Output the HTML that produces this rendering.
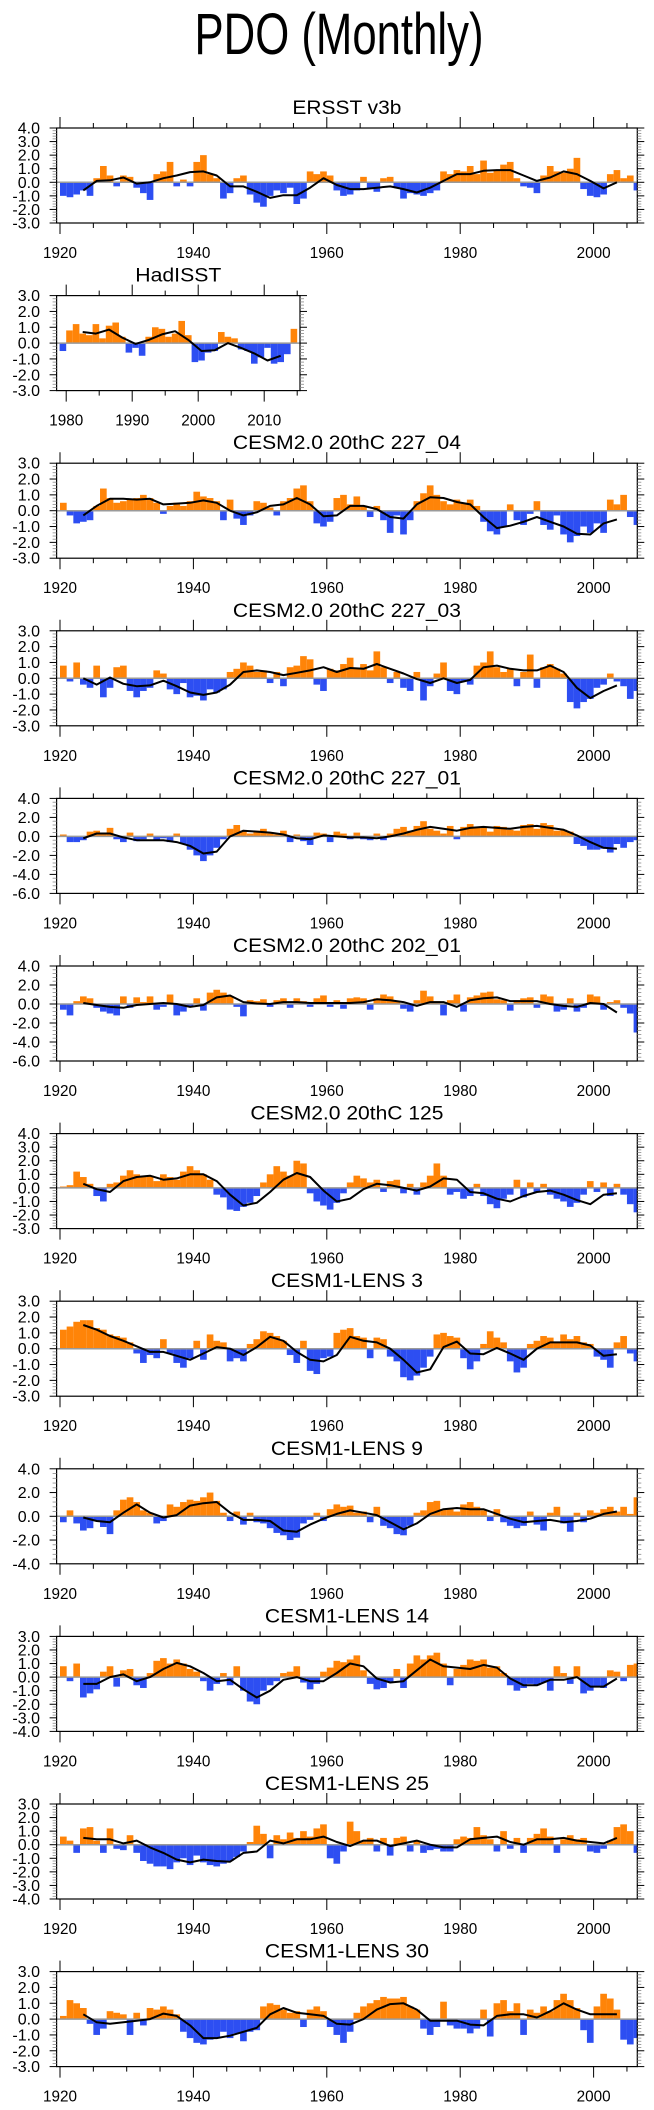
<!DOCTYPE html>
<html><head><meta charset="utf-8">
<style>
html,body{margin:0;padding:0;background:#fff;}
svg{display:block;font-family:"Liberation Sans",Arial,sans-serif;}
</style></head>
<body>
<svg id="fig" width="654" height="2110" viewBox="0 0 654 2110" xmlns="http://www.w3.org/2000/svg">
<text x="339" y="54" font-size="58" text-anchor="middle" textLength="289" lengthAdjust="spacingAndGlyphs">PDO (Monthly)</text>
</svg>
<script>
// ---------- DATA (yearly approximations of monthly bars; smooth every 2 years) ----------
const years = [];
for (let y = 1920; y <= 2006; y++) years.push(y);
const hadYears = [];
for (let y = 1979; y <= 2015; y++) hadYears.push(y);
const xTickLabelsMain = ["1920","1940","1960","1980","2000"];
const xTickLabelsHad = ["1980","1990","2000","2010"];

const ersstBars = [-1.0,-1.1,-0.9,-0.6,-1.0,0.3,1.2,0.5,-0.3,0.5, 0.4,-0.4,-0.8,-1.3,0.6,0.8,1.5,-0.3,0.2,-0.3, 1.5,2.0,0.6,0.3,-1.2,-0.8,0.3,0.5,-0.9,-1.5, -1.8,-1.0,-0.6,-0.8,-0.4,-1.6,-1.2,0.8,0.6,0.8, 0.5,-0.6,-1.0,-0.9,-0.6,0.4,-0.5,-0.7,0.3,0.4, -0.4,-1.2,-0.8,-0.9,-1.0,-0.8,-0.6,0.8,0.6,0.9, 0.8,1.2,0.6,1.6,0.7,0.9,1.3,1.5,0.3,-0.3, -0.4,-0.8,0.5,1.2,0.8,0.7,1.0,1.8,-0.5,-1.0, -1.1,-0.9,0.6,0.9,0.3,0.5,-0.6];
const ersstSmooth = [-0.6,0.1,0.15,0.35,-0.1,0.0,0.3,0.5,0.75,0.8,0.5,-0.3,-0.3,-0.7,-1.15,-0.95,-0.95,-0.4,0.3,-0.2,-0.5,-0.5,-0.4,-0.3,-0.5,-0.75,-0.4,0.1,0.6,0.6,0.85,0.9,0.9,0.5,0.1,0.35,0.8,0.6,0.1,-0.45,0.0];

const hadBars = [-0.5,0.8,1.2,0.6,0.5,1.2,0.3,1.1,1.3,0.4, -0.6,-0.3,-0.8,0.4,1.0,0.9,0.4,0.6,1.4,0.5, -1.2,-1.1,-0.6,-0.5,0.7,0.4,0.3,-0.4,-0.5,-1.3, -0.9,-0.3,-1.3,-1.2,-0.7,0.9,0.0];
const hadSmooth = [0.7,0.6,0.85,0.35,-0.05,0.2,0.55,0.75,0.2,-0.5,-0.45,0.0,-0.3,-0.65,-1.1,-0.8];

const c227_04Bars = [0.5,-0.3,-0.8,-0.7,-0.6,0.3,1.4,0.8,0.5,0.6, 0.7,0.8,1.0,0.8,0.5,-0.2,0.3,0.5,0.3,0.6, 1.2,0.9,0.8,0.6,-0.6,0.7,-0.5,-0.9,-0.3,0.6, 0.5,0.2,-0.3,0.6,0.8,1.4,1.6,0.6,-0.8,-1.0, -0.7,0.8,1.0,0.4,0.9,0.3,-0.4,0.3,-0.6,-1.4, -0.3,-1.5,-0.6,0.6,1.1,1.6,1.0,0.6,0.4,0.7, 0.5,0.7,0.3,-0.7,-1.3,-1.5,-1.0,0.4,-0.6,-0.9, -0.2,0.6,-0.9,-1.2,-0.3,-1.5,-2.0,-1.6,-1.0,-1.4, -0.8,-1.4,0.7,0.4,1.0,-0.4,-0.9];
const c227_04Smooth = [-0.3,0.3,0.75,0.75,0.7,0.75,0.4,0.45,0.5,0.65,0.5,0.0,-0.3,-0.1,0.3,0.4,0.8,0.4,-0.35,-0.3,0.3,0.3,0.1,-0.4,-0.5,0.4,0.85,0.8,0.55,0.4,-0.4,-1.1,-0.95,-0.7,-0.4,-0.7,-1.0,-1.45,-1.5,-0.8,-0.55];

const c227_03Bars = [0.8,-0.2,1.0,-0.4,-0.6,0.8,-1.2,-0.6,0.7,0.8, -0.8,-1.2,-0.8,-0.6,0.5,0.3,-0.7,-1.0,-0.3,-1.2, -1.1,-1.4,-0.7,-0.9,-0.7,0.4,0.6,1.0,0.8,0.4, 0.5,-0.3,0.4,-0.5,0.7,0.8,1.4,1.2,-0.4,-0.8, 0.6,0.5,0.9,1.3,0.6,0.9,0.5,1.7,0.7,-0.3, 0.4,-0.6,-0.8,0.4,-1.4,-0.5,0.3,1.0,-0.8,-1.0, -0.2,-0.4,0.8,1.0,1.7,0.7,0.4,0.6,-0.5,0.4, 1.5,-0.6,0.7,0.9,0.6,0.3,-1.5,-1.9,-1.5,-1.3, -0.6,-0.4,0.3,-0.2,-0.5,-1.3,-0.8];
const c227_03Smooth = [0.0,-0.4,0.05,-0.35,-0.5,-0.45,-0.15,-0.5,-0.9,-1.05,-0.9,-0.4,0.4,0.5,0.4,0.2,0.35,0.5,0.7,0.4,0.65,0.6,0.9,0.6,0.3,-0.05,-0.3,0.0,-0.3,-0.1,0.7,0.8,0.6,0.5,0.5,0.8,0.4,-0.6,-1.25,-0.8,-0.45];

const c227_01Bars = [0.2,-0.6,-0.6,-0.4,0.5,0.6,0.2,0.9,-0.3,-0.6, 0.4,-0.5,-0.3,0.3,-0.4,-0.2,-0.6,0.3,-0.8,-1.4, -2.0,-2.6,-2.0,-1.2,-0.3,0.8,1.2,0.6,0.3,0.6, 0.8,0.3,0.2,0.6,-0.6,0.2,-0.5,-0.9,0.4,0.3, -0.6,0.5,0.3,-0.3,0.4,-0.3,-0.4,0.3,-0.4,0.3, 0.8,1.0,0.6,1.1,1.6,0.8,0.6,0.3,1.1,-0.3, 1.0,1.3,1.0,0.9,0.5,1.1,1.0,0.7,0.6,1.2, 1.3,0.8,1.4,1.2,0.6,0.7,0.5,-0.8,-1.0,-1.4, -1.4,-1.3,-1.7,-0.8,-1.2,-0.6,-0.4];
const c227_01Smooth = [-0.2,0.3,0.3,-0.1,-0.4,-0.4,-0.4,-0.6,-1.0,-1.8,-1.6,0.0,0.6,0.5,0.4,0.2,-0.2,-0.3,0.1,0.0,-0.1,-0.1,-0.2,0.0,0.3,0.7,1.0,0.8,0.6,0.9,1.0,0.9,0.8,1.0,1.1,0.9,0.7,0.1,-0.6,-1.2,-1.3];

const c202_01Bars = [-0.6,-1.2,0.3,0.8,0.6,-0.4,-0.8,-1.0,-1.2,0.8, -0.4,0.7,0.2,0.8,-0.6,-0.3,1.0,-1.2,-0.8,-0.2, 0.6,-0.7,1.2,1.5,1.2,0.8,-0.3,-1.3,0.4,0.3, 0.5,-0.3,0.4,0.6,-0.4,0.6,0.3,-0.3,0.6,0.9, -0.3,0.4,-0.5,0.6,0.7,0.6,-0.6,0.6,1.0,0.8, 0.3,-0.5,-0.8,0.4,1.4,0.8,0.3,-1.2,0.4,1.0, -0.8,0.7,0.9,1.2,1.3,0.5,0.4,-0.7,0.4,0.6, 0.7,-0.4,1.0,0.8,-0.8,-0.6,0.6,-0.8,-0.4,1.0, 0.8,-0.6,0.2,0.4,-0.4,-1.0,-3.0];
const c202_01Smooth = [0.1,-0.1,-0.3,-0.4,-0.1,0.0,0.1,0.0,-0.3,-0.1,0.7,0.9,0.2,0.05,0.0,0.2,0.2,0.1,0.1,0.1,0.1,0.2,0.5,0.4,0.2,-0.2,0.2,0.2,-0.3,0.4,0.6,0.7,0.3,0.3,0.3,0.0,-0.2,-0.3,0.1,0.0,-0.9];

const c125Bars = [0.1,0.2,1.2,0.8,0.3,-0.6,-1.0,0.3,0.4,0.9, 1.3,1.0,0.8,0.9,0.5,1.0,0.8,0.6,1.2,1.6, 1.3,1.0,0.6,-0.5,-0.7,-1.6,-1.7,-1.4,-1.1,-0.6, 0.4,1.0,1.6,1.2,0.9,2.0,1.8,-0.4,-1.0,-1.3, -1.6,-1.1,-0.4,0.4,0.9,0.7,0.4,0.6,-0.3,0.5, 0.6,-0.4,0.3,-0.5,0.4,0.9,1.8,0.9,-0.5,-0.3, -0.8,-0.6,0.3,-0.6,-1.2,-1.5,-0.8,-0.5,0.6,-0.7, 0.4,-0.3,0.3,-0.5,-0.8,-1.0,-1.4,-1.1,-0.5,0.5, -0.3,0.4,-0.6,0.3,-0.5,-1.2,-1.8];
const c125Smooth = [0.3,-0.1,-0.3,0.5,0.8,0.9,0.6,0.7,1.0,1.0,0.5,-0.5,-1.3,-1.1,-0.3,0.6,1.1,0.8,-0.2,-1.0,-0.8,-0.1,0.3,0.2,0.0,-0.2,0.1,0.7,0.6,-0.3,-0.4,-0.8,-1.0,-0.6,-0.3,-0.2,-0.5,-0.9,-1.2,-0.5,-0.4];

const lens3Bars = [1.2,1.4,1.7,1.8,1.8,1.3,1.2,0.9,0.8,0.7, 0.4,-0.3,-0.9,-0.4,-0.6,0.6,-0.3,-0.9,-1.2,-0.6, 0.5,-0.7,0.9,0.5,0.4,-0.8,-0.6,-0.8,0.3,0.6, 1.1,1.0,0.8,0.5,-0.4,-0.9,0.5,-1.4,-1.6,-0.6, -0.5,1.0,1.2,1.3,0.8,0.7,-0.6,0.7,0.6,-0.5, -0.8,-1.8,-2.0,-1.7,-1.2,-0.5,0.9,1.0,0.8,0.7, -0.6,-1.3,-0.8,0.3,1.1,0.7,0.4,-0.8,-1.5,-1.2, 0.3,0.5,0.8,0.7,0.4,0.9,0.6,0.8,0.4,0.3, -0.5,-0.7,-1.2,0.4,0.8,-0.3,-0.8];
const lens3Smooth = [1.5,1.2,0.8,0.5,0.15,-0.2,-0.2,-0.45,-0.7,-0.3,0.1,0.0,-0.4,0.1,0.75,0.5,-0.2,-0.7,-0.8,-0.4,0.75,0.5,0.4,0.0,-0.7,-1.5,-1.3,0.1,0.45,-0.3,-0.35,0.05,-0.3,-0.7,0.0,0.4,0.4,0.4,0.2,-0.45,-0.35];

const lens9Bars = [-0.5,0.5,-0.6,-1.2,-1.0,-0.4,-0.9,-1.5,0.5,1.4, 1.6,1.2,0.5,0.3,-0.6,-0.4,1.0,0.8,1.2,1.4, 1.3,1.6,2.0,1.3,0.3,-0.4,0.4,-0.7,0.3,-0.5, -0.6,-1.0,-1.4,-1.6,-2.0,-1.8,-0.6,-0.3,0.3,-0.4, 0.6,1.0,0.8,0.9,0.3,0.4,-0.5,0.8,-0.8,-1.0, -1.5,-1.6,-0.8,0.3,0.5,1.2,1.3,0.6,0.7,0.4, 1.0,1.2,0.8,0.5,-0.4,0.6,-0.5,-0.8,-1.0,-0.8, 0.4,-0.7,-1.2,0.3,0.8,-0.6,-1.3,0.3,-0.5,0.5, 0.3,0.6,0.8,0.4,0.8,0.2,1.6];
const lens9Smooth = [-0.1,-0.4,-0.5,0.3,1.0,0.3,-0.1,0.1,0.9,1.1,1.2,0.3,-0.3,-0.3,-0.4,-1.2,-1.3,-0.7,-0.2,0.2,0.5,0.3,0.1,-0.5,-1.1,-0.6,0.2,0.6,0.7,0.6,0.6,0.2,-0.2,-0.5,-0.4,-0.3,-0.5,-0.4,-0.2,0.2,0.4];

const lens14Bars = [0.8,-0.3,1.0,-1.5,-1.2,-0.9,0.4,0.8,-0.7,0.5, 0.6,-0.6,-0.8,0.3,1.2,1.4,1.0,1.3,1.0,0.6, 0.4,-0.3,-1.0,-0.5,0.3,-0.6,0.8,-1.0,-1.8,-2.0, -1.0,-0.6,-0.3,0.3,0.4,0.8,-0.4,-0.9,-0.5,0.4, 0.7,1.2,1.1,1.3,1.6,0.5,-0.5,-0.9,-0.8,-0.4, 0.6,-0.8,1.0,1.6,1.3,1.6,1.8,1.0,-0.6,0.6, 0.9,1.3,1.2,1.3,0.7,0.8,0.3,-0.6,-1.0,-0.8, -0.5,-0.6,-0.4,-1.0,0.8,0.3,-0.5,0.8,-1.2,-1.0, -0.7,-0.8,0.5,0.4,-0.3,0.9,1.0];
const lens14Smooth = [-0.5,-0.5,0.0,0.2,-0.3,0.0,0.6,1.05,0.8,0.3,-0.3,-0.2,-0.9,-1.5,-1.0,-0.2,0.0,-0.3,-0.3,0.3,1.0,0.8,-0.1,-0.4,-0.3,0.5,1.3,0.8,0.7,0.6,0.9,0.7,-0.1,-0.6,-0.6,-0.2,-0.2,0.0,-0.7,-0.7,-0.1];

const lens25Bars = [0.6,0.3,-0.6,1.2,1.3,0.3,-0.6,1.2,-0.3,-0.4, 0.7,-0.6,-1.2,-1.4,-1.6,-1.6,-1.8,-1.3,-1.0,-1.5, -0.8,-1.3,-1.5,-1.6,-1.4,-1.2,-0.9,-0.5,0.2,1.4, 0.8,-1.0,0.7,0.4,0.9,0.5,1.0,0.6,1.2,1.5, -1.0,-1.4,-0.5,1.7,1.0,0.3,0.5,-0.5,0.5,-0.8, 0.5,0.6,-0.5,0.3,-0.6,-0.4,-0.3,-0.5,-0.5,0.4, 0.6,0.5,1.3,0.7,0.4,-0.5,1.0,-0.3,0.5,-0.6, 0.5,0.8,1.2,0.6,-0.6,0.4,0.7,0.4,0.5,-0.5, -0.6,-0.3,0.3,1.3,1.5,1.0,-0.6];
const lens25Smooth = [0.5,0.4,0.4,0.1,0.3,-0.2,-0.6,-1.1,-1.3,-1.1,-1.2,-1.25,-0.6,-0.5,0.3,0.1,0.4,0.4,0.6,0.2,-0.1,0.3,0.3,-0.1,0.1,0.3,0.0,-0.2,-0.2,0.4,0.5,0.6,0.2,0.0,0.4,0.4,0.5,0.3,0.2,0.1,0.5];

const lens30Bars = [0.2,1.2,1.0,0.7,-0.3,-1.0,-0.6,0.5,0.4,0.3, -1.0,0.4,-0.4,0.7,0.6,0.8,0.6,0.3,-0.8,-1.2, -1.5,-1.6,-1.3,-1.2,-0.8,-1.2,-0.9,-1.4,-0.8,-0.7, 0.8,1.0,0.9,0.6,0.4,0.5,-0.5,0.6,0.8,0.5, -0.5,-1.0,-1.5,-0.8,0.4,0.8,1.0,1.2,1.4,1.3, 1.3,1.4,0.8,0.6,-0.6,-1.0,-0.5,1.1,-0.4,-0.6, -0.6,-0.9,-0.6,0.6,-1.1,1.0,1.2,0.5,1.0,-1.0, 0.6,0.4,0.8,0.5,1.2,1.6,1.2,0.7,-0.7,-1.5, 0.8,1.6,1.3,0.6,-1.3,-1.6,-1.2];
const lens30Smooth = [0.3,-0.2,-0.3,-0.2,-0.1,0.0,0.35,0.2,-0.4,-1.2,-1.2,-1.05,-0.8,-0.55,0.3,0.7,0.4,0.3,0.2,-0.3,-0.35,0.0,0.6,0.95,1.0,0.6,-0.1,-0.1,-0.1,-0.35,-0.4,0.2,0.3,0.3,0.1,0.5,1.0,0.6,0.3,0.3,0.3];

// ---------- PANEL CONFIG ----------
const panels = [
 {name:"ersst", title:"ERSST v3b", bars:ersstBars, smooth:ersstSmooth, yMax:4, yMin:-3, step:1, tw:109},
 {name:"hadisst", title:"HadISST", bars:hadBars, smooth:hadSmooth, yMax:3, yMin:-3, step:1, tw:86, had:true},
 {name:"cesm2-227-04", title:"CESM2.0 20thC 227_04", bars:c227_04Bars, smooth:c227_04Smooth, yMax:3, yMin:-3, step:1, tw:228},
 {name:"cesm2-227-03", title:"CESM2.0 20thC 227_03", bars:c227_03Bars, smooth:c227_03Smooth, yMax:3, yMin:-3, step:1, tw:228},
 {name:"cesm2-227-01", title:"CESM2.0 20thC 227_01", bars:c227_01Bars, smooth:c227_01Smooth, yMax:4, yMin:-6, step:2, tw:228},
 {name:"cesm2-202-01", title:"CESM2.0 20thC 202_01", bars:c202_01Bars, smooth:c202_01Smooth, yMax:4, yMin:-6, step:2, tw:228},
 {name:"cesm2-125", title:"CESM2.0 20thC 125", bars:c125Bars, smooth:c125Smooth, yMax:4, yMin:-3, step:1, tw:193},
 {name:"lens-3", title:"CESM1-LENS 3", bars:lens3Bars, smooth:lens3Smooth, yMax:3, yMin:-3, step:1, tw:152},
 {name:"lens-9", title:"CESM1-LENS 9", bars:lens9Bars, smooth:lens9Smooth, yMax:4, yMin:-4, step:2, tw:152},
 {name:"lens-14", title:"CESM1-LENS 14", bars:lens14Bars, smooth:lens14Smooth, yMax:3, yMin:-4, step:1, tw:164},
 {name:"lens-25", title:"CESM1-LENS 25", bars:lens25Bars, smooth:lens25Smooth, yMax:3, yMin:-4, step:1, tw:164},
 {name:"lens-30", title:"CESM1-LENS 30", bars:lens30Bars, smooth:lens30Smooth, yMax:3, yMin:-3, step:1, tw:164}
];

const NS = "http://www.w3.org/2000/svg";
const svg = document.getElementById("fig");
function mk(parent, tag, attrs){
  const e = document.createElementNS(NS, tag);
  for (const k in attrs) e.setAttribute(k, attrs[k]);
  parent.appendChild(e);
  return e;
}

panels.forEach((p, i) => {
  const top = 128 + i * 167.6, H = 95, bot = top + H;
  const left = 56.6;
  const right = p.had ? 300 : 637.3;
  const x0Year = p.had ? 1980 : 1920, x0Px = p.had ? 66.2 : 60, pxPerYr = p.had ? 6.6 : 6.67;
  const xs = yr => x0Px + (yr - x0Year) * pxPerYr;
  const ys = v => top + (p.yMax - v) / (p.yMax - p.yMin) * H;
  const yrs = p.had ? hadYears : years;
  const smoothStart = p.had ? 1982 : 1923;

  const g = mk(svg, "g", {});
  
  

  const t = mk(g, "text", {x:(left+right)/2, y:top-14, "font-size":19, "text-anchor":"middle", textLength:p.tw, lengthAdjust:"spacingAndGlyphs"});
  t.textContent = p.title;
  
  

  // bars
  const bg = mk(g, "g", {});
  
  
  p.bars.forEach((v, k) => {
    const x1 = xs(yrs[k]), x2 = Math.min(xs(yrs[k] + 1), right);
    const y0 = ys(0), y1 = ys(v);
    const r = mk(bg, "rect", {x:x1, y:Math.min(y0,y1), width:Math.max(0,x2-x1), height:Math.abs(y1-y0), fill: v >= 0 ? "#ff8408" : "#2d4ef2"});
    
    
  });

  // zero line
  const zl = mk(g, "line", {x1:left, x2:right, y1:ys(0), y2:ys(0), stroke:"#9a9a9a", "stroke-width":1.5});
  
  

  // smooth line
  const pts = p.smooth.map((v, k) => xs(smoothStart + 2*k + 0.5).toFixed(1) + "," + ys(v).toFixed(1)).join(" ");
  const pl = mk(g, "polyline", {points:pts, fill:"none", stroke:"#000", "stroke-width":2, "stroke-linejoin":"round"});
  
  

  // frame
  const fr = mk(g, "rect", {x:left, y:top, width:right-left, height:H, fill:"none", stroke:"#000", "stroke-width":1.2});
  
  

  // y ticks + labels
  for (let v = p.yMax; v >= p.yMin - 1e-9; v -= p.step) {
    const yy = ys(v);
    mk(g, "line", {x1:left-7, x2:left, y1:yy, y2:yy, stroke:"#000", "stroke-width":1});
    mk(g, "line", {x1:right, x2:right+7, y1:yy, y2:yy, stroke:"#000", "stroke-width":1});
    const lb = mk(g, "text", {x:40, y:yy+5.5, "font-size":16, "text-anchor":"end"});
    lb.textContent = v.toFixed(1);
    
    
    if (v > p.yMin + 1e-9) {
      for (let m = 1; m < 5; m++) {
        const ym = ys(v - m * p.step / 5);
        mk(g, "line", {x1:left-4, x2:left, y1:ym, y2:ym, stroke:"#888", "stroke-width":0.8});
        mk(g, "line", {x1:right, x2:right+4, y1:ym, y2:ym, stroke:"#888", "stroke-width":0.8});
      }
    }
  }

  // x ticks + labels
  const labels = p.had ? xTickLabelsHad : xTickLabelsMain;
  const majStep = p.had ? 10 : 20, minStep = 5;
  const yEnd = p.had ? 2015 : 2006;
  for (let yr = x0Year; yr <= yEnd; yr += minStep) {
    const xx = xs(yr);
    const major = (yr - x0Year) % majStep === 0;
    const L = major ? 11 : 5;
    mk(g, "line", {x1:xx, x2:xx, y1:top-L, y2:top, stroke:"#000", "stroke-width":1});
    mk(g, "line", {x1:xx, x2:xx, y1:bot, y2:bot+L, stroke:"#000", "stroke-width":1});
  }
  labels.forEach((s, k) => {
    const lb = mk(g, "text", {x:xs(x0Year + k*majStep), y:bot+35, "font-size":16, "text-anchor":"middle", textLength:34, lengthAdjust:"spacingAndGlyphs"});
    lb.textContent = s;
    
    
  });
});
</script>
</body></html>
